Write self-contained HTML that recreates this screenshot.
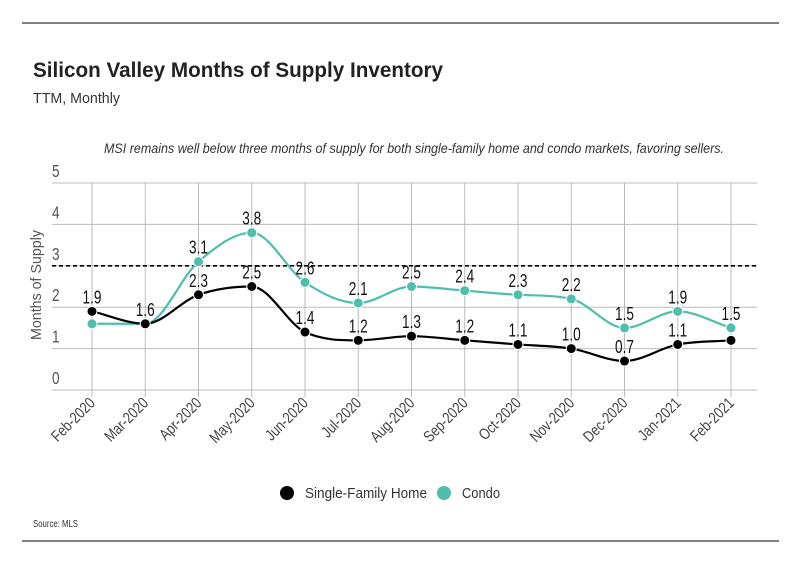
<!DOCTYPE html>
<html><head><meta charset="utf-8"><style>
body{margin:0;background:#fff;font-family:"Liberation Sans",sans-serif;}
svg text{font-family:"Liberation Sans",sans-serif;}
</style></head><body>
<svg id="c" width="799" height="575" xmlns="http://www.w3.org/2000/svg">
<line x1="22" y1="23" x2="779" y2="23" stroke="#000" stroke-width="1"/>
<line x1="22" y1="541" x2="779" y2="541" stroke="#000" stroke-width="1"/>
<text x="33" y="77" font-size="21" font-weight="bold" fill="#222" textLength="410" lengthAdjust="spacingAndGlyphs">Silicon Valley Months of Supply Inventory</text>
<text x="33" y="103" font-size="15" fill="#333" textLength="87" lengthAdjust="spacingAndGlyphs">TTM, Monthly</text>
<text x="104" y="153" font-size="14" font-style="italic" fill="#333" textLength="620" lengthAdjust="spacingAndGlyphs">MSI remains well below three months of supply for both single-family home and condo markets, favoring sellers.</text>
<text transform="translate(41,285) rotate(-90)" font-size="15" fill="#555" text-anchor="middle" textLength="110" lengthAdjust="spacingAndGlyphs">Months of Supply</text>
<g id="grid"></g><g id="marks"></g>
<g>
<circle cx="287" cy="493" r="7" fill="#000"/>
<text x="305" y="498" font-size="15" fill="#333" textLength="122" lengthAdjust="spacingAndGlyphs">Single-Family Home</text>
<circle cx="444" cy="493" r="7" fill="#4dbfab"/>
<text x="462" y="498" font-size="15" fill="#333" textLength="38" lengthAdjust="spacingAndGlyphs">Condo</text>
</g>
<text x="33" y="527" font-size="10" fill="#333" textLength="45" lengthAdjust="spacingAndGlyphs">Source:  MLS</text>
</svg>
<script>
const categories=["Feb-2020","Mar-2020","Apr-2020","May-2020","Jun-2020","Jul-2020","Aug-2020","Sep-2020","Oct-2020","Nov-2020","Dec-2020","Jan-2021","Feb-2021"];
const sfh=[1.9,1.6,2.3,2.5,1.4,1.2,1.3,1.2,1.1,1.0,0.7,1.1,1.2];
const condo=[1.6,1.6,3.1,3.8,2.6,2.1,2.5,2.4,2.3,2.2,1.5,1.9,1.5];
const sfhLabels=[true,true,true,true,true,true,true,true,true,true,true,true,false];
const condoLabels=[false,false,true,true,true,true,true,true,true,true,true,true,true];
const yTicks=[0,1,2,3,4,5];
const threshold=3;
const NS="http://www.w3.org/2000/svg";
const x0=92,x1=731,yb=390,yt=183,ymax=5,xl=52,xr=757;
const X=i=>x0+i*(x1-x0)/(categories.length-1);
const Y=v=>yb-(v/ymax)*(yb-yt);
function mk(t,a,p){const e=document.createElementNS(NS,t);for(const k in a)e.setAttribute(k,a[k]);p.appendChild(e);return e;}
const g=document.getElementById('grid'),m=document.getElementById('marks');
yTicks.forEach(v=>{
 const l=mk('line',{x1:xl,x2:xr,y1:Y(v),y2:Y(v),stroke:'#bbb','stroke-width':1},g);
 
 
 const t=mk('text',{transform:`translate(52,${Y(v)-6}) scale(0.8,1.05)`,'font-size':17,fill:'#555'},g);t.textContent=v;
 
 
});
categories.forEach((c,i)=>{
 const l=mk('line',{x1:X(i),x2:X(i),y1:yt,y2:yb+7,stroke:'#bbb','stroke-width':1},g);
 
 
 const t=mk('text',{transform:`translate(${X(i)+4},${yb+14}) rotate(-45) scale(0.85,1.05)`,'font-size':15,fill:'#444','text-anchor':'end'},g);t.textContent=c;
 
 
});
const th=mk('line',{x1:xl,x2:xr,y1:Y(threshold),y2:Y(threshold),stroke:'#000','stroke-width':1.6,'stroke-dasharray':'4,3'},g);


function mono(pts){const n=pts.length,d=[],s=[];
 for(let i=0;i<n-1;i++)s.push((pts[i+1][1]-pts[i][1])/(pts[i+1][0]-pts[i][0]));
 for(let i=0;i<n;i++){if(i==0)d.push(s[0]);else if(i==n-1)d.push(s[n-2]);else d.push(s[i-1]*s[i]<=0?0:(s[i-1]+s[i])/2);}
 for(let i=0;i<n-1;i++){if(s[i]==0){d[i]=0;d[i+1]=0;continue;}const a=d[i]/s[i],b=d[i+1]/s[i],h=a*a+b*b;if(h>9){const t=3/Math.sqrt(h);d[i]=t*a*s[i];d[i+1]=t*b*s[i];}}
 let p=`M${pts[0][0]},${pts[0][1]}`;
 for(let i=0;i<n-1;i++){const h=(pts[i+1][0]-pts[i][0])/3;p+=`C${pts[i][0]+h},${pts[i][1]+d[i]*h} ${pts[i+1][0]-h},${pts[i+1][1]-d[i+1]*h} ${pts[i+1][0]},${pts[i+1][1]}`;}
 return p;}
function series(vals,labels,col,name){
 const pts=vals.map((v,i)=>[X(i),Y(v)]);
 const p=mk('path',{d:mono(pts),fill:'none',stroke:col,'stroke-width':2.2},m);
 
 
 vals.forEach((v,i)=>{
  const c=mk('circle',{cx:X(i),cy:Y(v),r:5,fill:col,stroke:'#fff','stroke-width':1},m);
  
  
  if(labels[i]){const t=mk('text',{transform:`translate(${X(i)},${Y(v)-8}) scale(0.8,1.1)`,'font-size':17,fill:'#111','text-anchor':'middle'},m);t.textContent=v.toFixed(1);
  
  }
 });
}
series(condo,condoLabels,'#4dbfab','condo');
series(sfh,sfhLabels,'#000','sfh');
</script>
</body></html>
